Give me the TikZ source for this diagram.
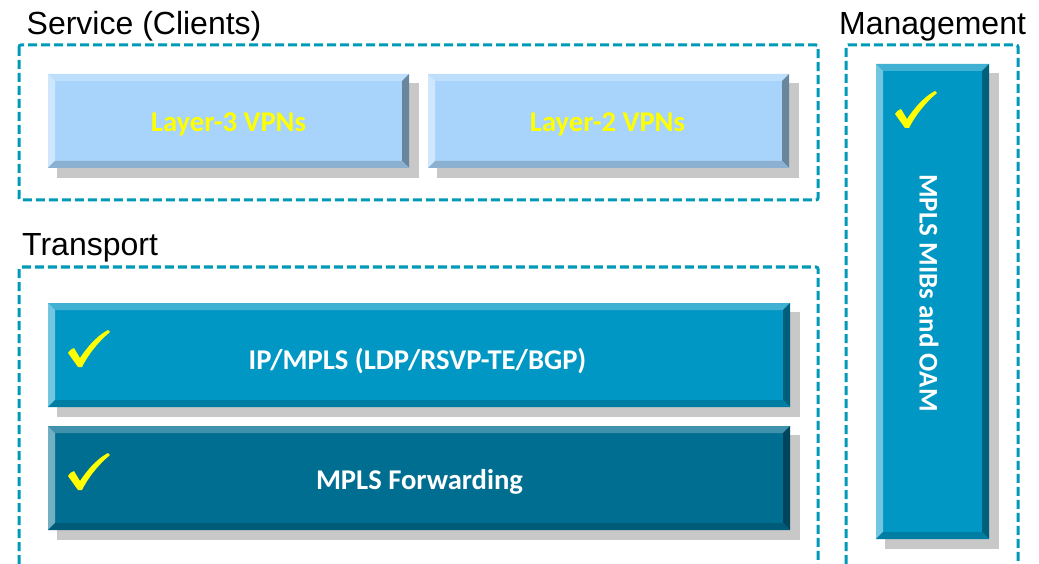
\documentclass[tikz,border=0pt]{standalone}
\usepackage{fontspec}
\setmainfont{Liberation Sans}
\newfontfamily\boxfont{Carlito}
\usepackage{xcolor}
\usepackage{tikz}
\usetikzlibrary{calc}
\definecolor{pale}{RGB}{168,212,251}
\definecolor{midblue}{RGB}{0,151,196}
\definecolor{deepblue}{RGB}{0,110,145}
\definecolor{dashblue}{RGB}{0,153,183}
\definecolor{shadowgray}{RGB}{200,200,200}
\definecolor{ticky}{RGB}{255,255,0}
\tikzset{
  groupline/.style={draw=dashblue, line width=3pt, dash pattern=on 9pt off 4pt, rounded corners=2pt},
  grouptitle/.style={anchor=base west, inner sep=0pt, font=\fontsize{32}{36}\selectfont},
  boxtext/.style={anchor=base, inner sep=0pt, text=white, font=\boxfont\bfseries\fontsize{28.6}{32}\selectfont}
}

\begin{document}
\begin{tikzpicture}[x=1pt,y=-1pt]
  \useasboundingbox (0,0) rectangle (1039,564);
  % dashed groups
  \draw[groupline] (19,45) rectangle (818,200);
  \draw[groupline] (19,564) -- (19,267) -- (818,267) -- (818,564);
  \draw[groupline] (846,564) -- (846,45) -- (1018,45) -- (1018,564);
  \node[grouptitle] (service) at (26.5,35) {Service (Clients)};
  \node[grouptitle] (transport) at (22,255) {Transport};
  \node[grouptitle] (management) at (839,35) {Management};
  % shadows and bevelled boxes
  \foreach \xa/\ya/\xb/\yb/\c in {48/74/409/168/pale, 428/74/789/168/pale, 48/303/790/407/midblue, 48/426/790/530/deepblue, 876/64/989/539/midblue} {
    \fill[shadowgray] (\xa+9,\ya+9) rectangle (\xb+10,\yb+10);
    \fill[\c] (\xa,\ya) rectangle (\xb,\yb);
    \fill[\c!75!white] (\xa,\ya) -- (\xb,\ya) -- (\xb-7,\ya+7) -- (\xa+7,\ya+7) -- cycle;
    \fill[\c!55!white] (\xa,\ya) -- (\xa+7,\ya+7) -- (\xa+7,\yb-7) -- (\xa,\yb) -- cycle;
    \fill[\c!63!black] (\xb,\ya) -- (\xb,\yb) -- (\xb-7,\yb-7) -- (\xb-7,\ya+7) -- cycle;
    \fill[\c!83!black] (\xa,\yb) -- (\xb,\yb) -- (\xb-7,\yb-7) -- (\xa+7,\yb-7) -- cycle;
  }
  % ticks
  \foreach \x/\y in {80/367, 80/490, 907/128}
    \fill[ticky, shift={(\x,\y)}] (-12,-14) .. controls (-10,-17) .. (-6,-19) -- (0,-9)
      .. controls (10,-24) and (20,-33) .. (28,-37) -- (30,-35)
      .. controls (18,-25) and (8,-12) .. (2,0) -- (-2,0) -- cycle;
  % labels
  \node[boxtext, text=ticky] (layer3) at (228.5,132) {Layer-3 VPNs};
  \node[boxtext, text=ticky] (layer2) at (607.5,132) {Layer-2 VPNs};
  \node[boxtext] (ipmpls) at (417.5,369) {IP/MPLS (LDP/RSVP-TE/BGP)};
  \node[boxtext] (forwarding) at (419.5,489) {MPLS Forwarding};
  \node[boxtext, anchor=center, rotate=-90, font=\boxfont\bfseries\fontsize{27}{32}\selectfont] (mibs) at (929,293) {MPLS MIBs and OAM};
\end{tikzpicture}
\end{document}
